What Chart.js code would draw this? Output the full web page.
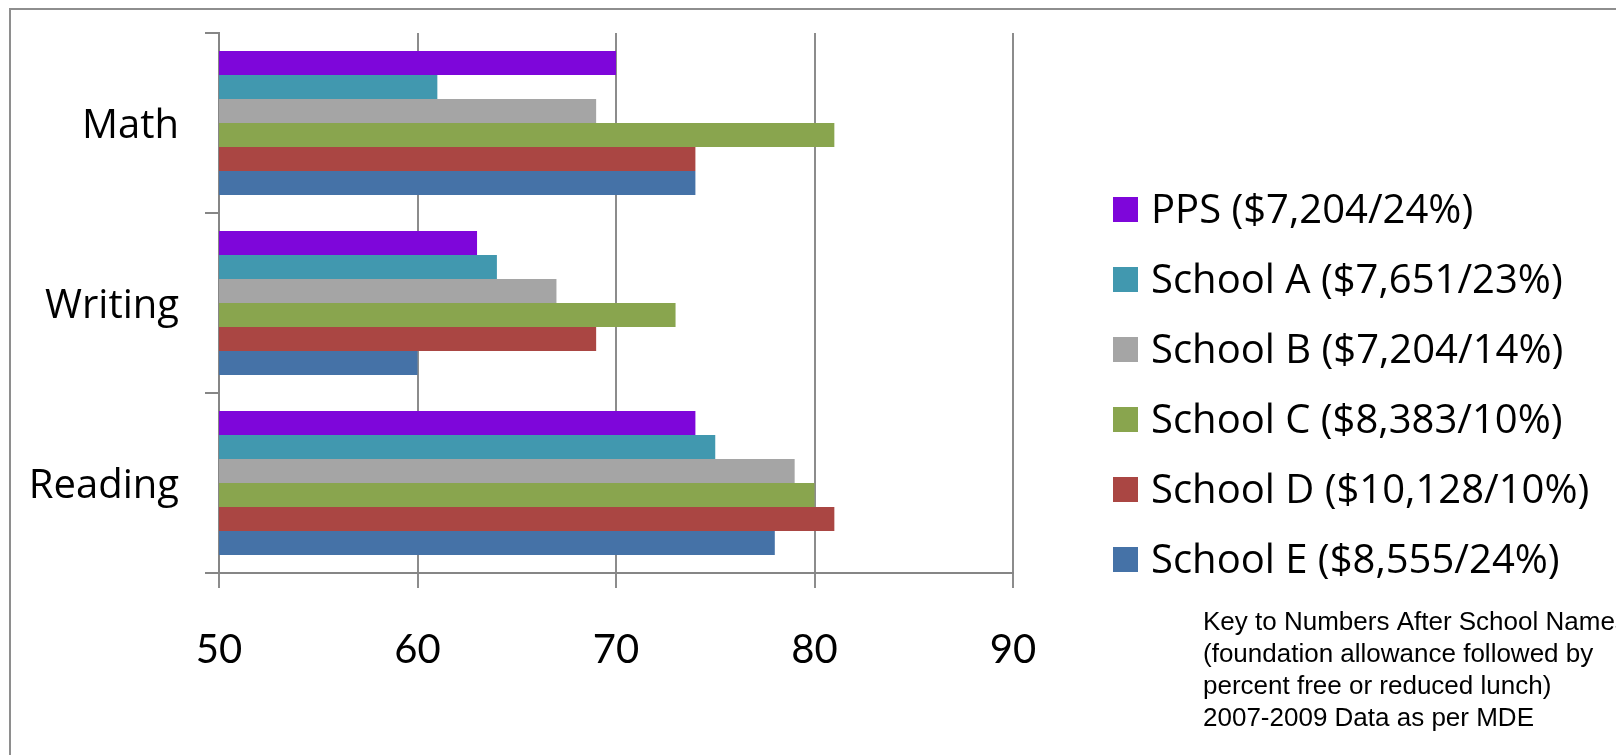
<!DOCTYPE html>
<html>
<head>
<meta charset="utf-8">
<script src="https://cdn.jsdelivr.net/npm/chart.js@4.4.1/dist/chart.umd.min.js"></script>
<style>
html,body{margin:0;padding:0;background:#fff;overflow:hidden;}
#wrap{width:1616px;height:755px;position:relative;}
</style>
</head>
<body>
<div id="wrap"><canvas id="c" width="1616" height="755"></canvas></div>
<script>
// ---- data ----
const categories = ['Math', 'Writing', 'Reading'];
const seriesNames = [
  'PPS ($7,204/24%)',
  'School A ($7,651/23%)',
  'School B ($7,204/14%)',
  'School C ($8,383/10%)',
  'School D ($10,128/10%)',
  'School E ($8,555/24%)'
];
const ppsValues     = [70, 63, 74];
const schoolAValues = [61, 64, 75];
const schoolBValues = [69, 67, 79];
const schoolCValues = [81, 73, 80];
const schoolDValues = [74, 69, 81];
const schoolEValues = [74, 60, 78];
const xTickValues = [50, 60, 70, 80, 90];
const noteLines = [
  'Key to Numbers After School Names',
  '(foundation allowance followed by',
  'percent free or reduced lunch)',
  '2007-2009 Data as per MDE'
];

const seriesColors = ['#7E06DA', '#4198AF', '#A5A5A5', '#89A54E', '#AA4643', '#4572A7'];
const seriesValues = [ppsValues, schoolAValues, schoolBValues, schoolCValues, schoolDValues, schoolEValues];

const datasets = seriesNames.map((name, i) => ({
  label: name,
  data: seriesValues[i],
  backgroundColor: seriesColors[i],
  borderWidth: 0,
  categoryPercentage: 0.8,
  barPercentage: 1.0
}));

const AXIS = '#868686';

const decorPlugin = {
  id: 'decor',
  afterDraw(chart) {
    const ctx = chart.ctx;
    ctx.save();
    // outer frame (top & left visible)
    ctx.strokeStyle = '#8E8E8E';
    ctx.lineWidth = 2;
    ctx.beginPath();
    ctx.moveTo(10, 760);
    ctx.lineTo(10, 9);
    ctx.lineTo(1620, 9);
    ctx.stroke();

    // legend
    ctx.font = '40px "Open Sans"';
    ctx.textBaseline = 'alphabetic';
    ctx.textAlign = 'left';
    chart.data.datasets.forEach((ds, i) => {
      const top = 197 + 70 * i;
      ctx.fillStyle = ds.backgroundColor;
      ctx.fillRect(1113, top, 25, 25);
      ctx.fillStyle = '#000';
      ctx.fillText(ds.label, 1151, top + 26);
    });

    // note
    ctx.font = '26px "Liberation Sans"';
    ctx.fillStyle = '#000';
    noteLines.forEach((t, i) => {
      ctx.fillText(t, 1203, 630 + 32 * i);
    });
    ctx.restore();
  }
};

new Chart(document.getElementById('c'), {
  type: 'bar',
  data: { labels: categories, datasets },
  options: {
    indexAxis: 'y',
    responsive: false,
    animation: false,
    devicePixelRatio: 1,
    layout: { padding: { left: 0, top: 33, right: 603, bottom: 0 } },
    plugins: {
      legend: { display: false },
      tooltip: { enabled: false },
      title: { display: false }
    },
    scales: {
      x: {
        type: 'linear',
        min: 50,
        max: 90,
        afterBuildTicks(scale) { scale.ticks = xTickValues.map(v => ({ value: v })); },
        afterFit(scale) {
          scale.height = 182;
          scale.paddingLeft = 0; scale.paddingRight = 0;
          scale.paddingTop = 0; scale.paddingBottom = 0;
        },
        ticks: {
          font: { family: 'Lato', size: 40 },
          color: '#000',
          padding: 38
        },
        grid: {
          color: '#8C8C8C',
          lineWidth: 2,
          tickLength: 15,
          drawTicks: true
        },
        border: { display: true, color: AXIS, width: 2 }
      },
      y: {
        type: 'category',
        afterFit(scale) {
          scale.width = 219;
          scale.paddingTop = 0; scale.paddingBottom = 0;
          scale.paddingLeft = 0; scale.paddingRight = 0;
        },
        ticks: {
          font: { family: 'Open Sans', size: 40, lineHeight: '8px' },
          color: '#000',
          padding: 26,
          callback: function (value) { return ['', this.getLabelForValue(value)]; }
        },
        grid: {
          drawOnChartArea: false,
          color: AXIS,
          lineWidth: 2,
          tickLength: 14,
          offset: true
        },
        border: { display: true, color: AXIS, width: 2 }
      }
    }
  },
  plugins: [decorPlugin]
});
</script>
</body>
</html>
